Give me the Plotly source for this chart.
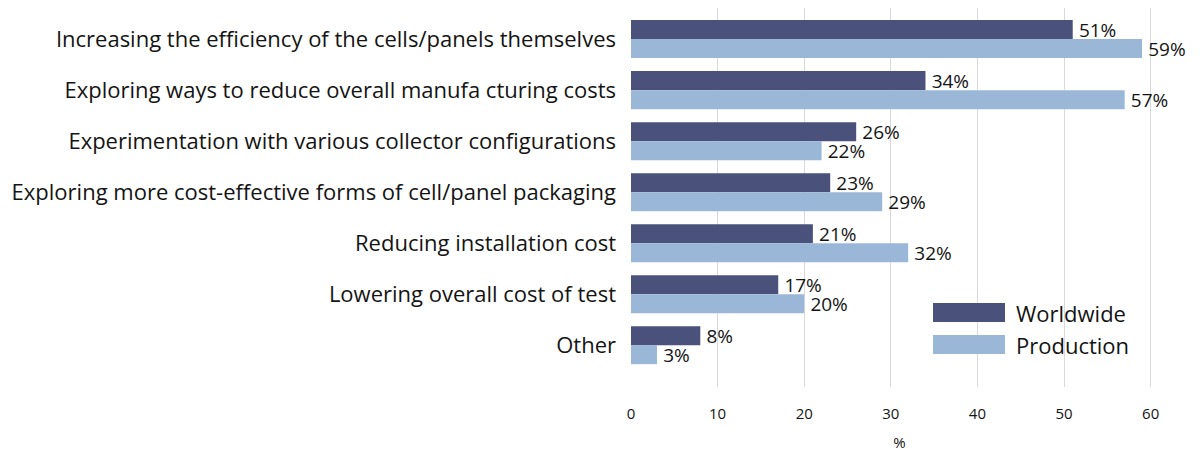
import plotly.graph_objects as go

categories = [
    "Increasing the efficiency of the cells/panels themselves",
    "Exploring ways to reduce overall manufa cturing costs",
    "Experimentation with various collector configurations",
    "Exploring more cost-effective forms of cell/panel packaging",
    "Reducing installation cost",
    "Lowering overall cost of test",
    "Other",
]
worldwide = [51, 34, 26, 23, 21, 17, 8]
production = [59, 57, 22, 29, 32, 20, 3]
x_ticks = [0, 10, 20, 30, 40, 50, 60]

DARK = "#4a527c"
LIGHT = "#9bb7d8"
FONT = "Open Sans"
INK = "#141414"

fig = go.Figure()
for name, vals, color in [("Worldwide", worldwide, DARK), ("Production", production, LIGHT)]:
    fig.add_trace(
        go.Bar(
            y=categories,
            x=vals,
            name=name,
            orientation="h",
            marker=dict(color=color, line=dict(width=0)),
            text=[f"\u2009{v}%" for v in vals],
            textposition="outside",
            constraintext="none",
            textfont=dict(size=19, color=INK, family=FONT),
            cliponaxis=False,
            showlegend=False,
        )
    )

# plot area in figure pixels (page adds an 8px body margin)
L, R, T, B = 623, 40, 0, 74
PW, PH = 1200 - L - R, 453 - T - B

fig.update_layout(
    width=1200,
    height=453,
    margin=dict(l=L, r=R, t=T, b=B),
    plot_bgcolor="white",
    paper_bgcolor="white",
    barmode="group",
    bargap=0.255,
    bargroupgap=0,
    font=dict(family=FONT, color=INK),
    xaxis=dict(
        range=[0, 62],
        tickvals=x_ticks,
        showgrid=True,
        gridcolor="#d9d9d9",
        gridwidth=1,
        zeroline=False,
        showline=False,
        tickfont=dict(size=15),
        ticklabelstandoff=16,
        title=dict(text="%", font=dict(size=15), standoff=15),
    ),
    yaxis=dict(
        type="category",
        range=[6.82, -0.61],
        showgrid=False,
        zeroline=False,
        showline=False,
        tickfont=dict(size=22),
        ticklabelstandoff=14,
    ),
)

# legend drawn as wide swatches + labels
for name, color, top in [("Worldwide", DARK, 295), ("Production", LIGHT, 327)]:
    y1 = 1 - (top - T) / PH
    y0 = 1 - (top + 19 - T) / PH
    fig.add_shape(
        type="rect", xref="paper", yref="paper",
        x0=(925 - L) / PW, x1=(997 - L) / PW,
        y0=y0, y1=y1,
        fillcolor=color, line=dict(width=0),
    )
    fig.add_annotation(
        xref="paper", yref="paper",
        x=(1006 - L) / PW, y=(y0 + y1) / 2,
        text=name, showarrow=False,
        xanchor="left", yanchor="middle",
        font=dict(size=22, family=FONT, color=INK),
    )

fig.write_html("out.html")
